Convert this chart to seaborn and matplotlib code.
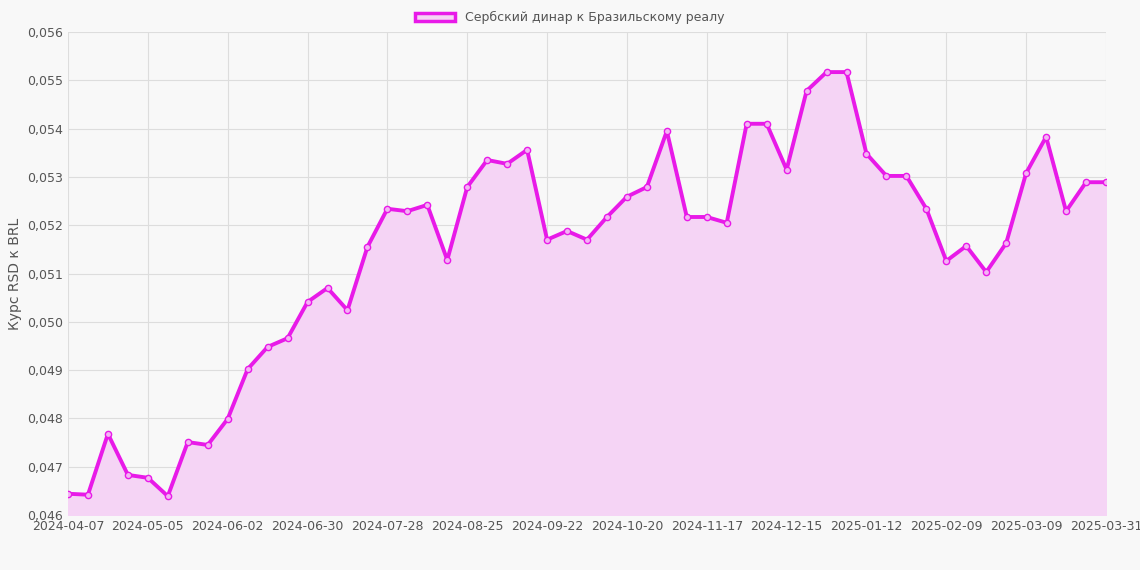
import matplotlib
matplotlib.use("Agg")
import matplotlib.pyplot as plt
import seaborn as sns
import pandas as pd
import numpy as np
from matplotlib.patches import Patch

dates = list(pd.date_range("2024-04-07", periods=52, freq="7D").strftime("%Y-%m-%d")) + ["2025-03-31"]
values = [0.04644,0.04642,0.04768,0.04683,0.04677,0.04639,0.04751,0.04745,0.04799,0.04902,
          0.04948,0.04966,0.05041,0.05070,0.05024,0.05155,0.05234,0.05229,0.05242,0.05128,
          0.05279,0.05335,0.05327,0.05356,0.05170,0.05188,0.05170,0.05217,0.05259,0.05279,
          0.05395,0.05217,0.05217,0.05205,0.05410,0.05410,0.05315,0.05478,0.05517,0.05517,
          0.05348,0.05302,0.05302,0.05234,0.05126,0.05157,0.05103,0.05163,0.05308,0.05383,
          0.05229,0.05289,0.05289]
series_name = "Сербский динар к Бразильскому реалу"

sns.set_theme(style="whitegrid")
plt.rcParams['font.family'] = ['DejaVu Sans']
df = pd.DataFrame({"i": np.arange(len(dates)), "v": values})

fig = plt.figure(figsize=(11.4, 5.7), dpi=100, facecolor="#f8f8f8")
ax = fig.add_axes([68/1140, 55/570, 1038/1140, 483/570])
ax.set_facecolor("#f8f8f8")
line_c = "#e81ae8"
ax.fill_between(df["i"], 0.046, df["v"], color="#f5d4f5", zorder=1)
sns.lineplot(data=df, x="i", y="v", ax=ax, color=line_c, linewidth=2.8, marker="o",
             markersize=4.5, markerfacecolor="#f3b5f3", markeredgecolor=line_c, markeredgewidth=1, zorder=3)
ax.set_xlim(0, len(dates)-1)
ax.set_ylim(0.046, 0.056)
yt = np.arange(0.046, 0.05601, 0.001)
ax.set_yticks(yt)
ax.set_yticklabels([f"{t:.3f}".replace(".", ",") for t in yt])
ticks = sorted(set(list(range(0, len(dates), 4)) + [len(dates)-1]))
ax.set_xticks(ticks)
ax.set_xticklabels([dates[t] for t in ticks])
ax.tick_params(labelsize=9, colors="#555555", length=0)
ax.grid(True, color="#dddddd", linewidth=0.8)
for s in ax.spines.values():
    s.set_visible(False)
ax.set_xlabel("")
ax.set_ylabel("Курс RSD к BRL", fontsize=10, color="#555555")
fig.legend(handles=[Patch(facecolor="#f5d4f5", edgecolor=line_c, linewidth=2.5, label=series_name)],
           loc="upper center", bbox_to_anchor=(0.5, 1.0), frameon=False, fontsize=9,
           handlelength=3.2, labelcolor="#555555")
fig.savefig("out.png", dpi=100, facecolor=fig.get_facecolor())
